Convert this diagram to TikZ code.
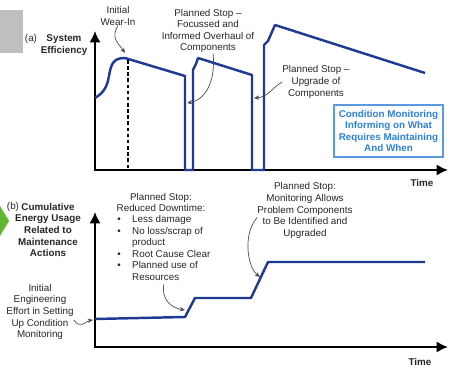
\documentclass[tikz,border=0pt]{standalone}
\usepackage{fontspec}
\setmainfont{Liberation Sans}
\usetikzlibrary{arrows.meta}
\definecolor{navy}{HTML}{1F3A93}
\definecolor{cmblue}{HTML}{2F80D8}
\definecolor{leaf}{HTML}{62B533}

\begin{document}
\begin{tikzpicture}[x=0.02cm,y=-0.02cm,
    every node/.style={font=\fontsize{5.6}{6.6}\selectfont,inner sep=0pt,align=center,text=black!85},
    bold/.style={font=\fontsize{5.6}{6.6}\selectfont\bfseries},
    axis/.style={line width=1.5pt,{Latex[length=6.5pt,width=6.5pt]}-{Latex[length=6.5pt,width=6.5pt]}},
    curve/.style={color=navy,line width=1.4pt,line join=round},
    note/.style={thin,color=black!70,-{Stealth[length=3pt,width=2.5pt]}}]
    \useasboundingbox (0,0) rectangle (450,374);
    \fill[black!25] (0,10) rectangle (23,53);
    \fill[leaf] (0,206) -- (9,221) -- (0,236) -- cycle;
    % axes of both panels
    \foreach \top/\base in {31/170,212/347}
    \draw[axis] (95,\top) |- (448,\base);
    \draw[line width=1.4pt,dash pattern=on 2pt off 1.5pt] (128,60) -- (128,170);
    \draw[curve] (95,98) .. controls (103,93) and (107,88) .. (109,76) .. controls (111,62) and (115,58) .. (125,58)
        -- (185,76) -- (185,170) -- (193,170) -- (193,70) -- (196,64) -- (198,58) -- (252,75) -- (252,170)
        -- (264,170) -- (264,45) -- (268,41) -- (275,25) -- (425,73);
    \draw[curve] (95,319) -- (185,317) -- (195,298) -- (251,298) -- (268,262) -- (425,262);
    % panel (a)
    \node (a mark) at (31,39) {(a)};
    \node[bold] (efficiency) at (64,45) {System\\Efficiency};
    \node (wear) at (118,16) {Initial\\Wear-In};
    \coordinate (wear tip) at (125,53);
    \draw[note] (wear.south) .. controls (110,38) and (119,44) .. (wear tip);
    \node (overhaul) at (208,31) {Planned Stop --\\Focussed and\\Informed Overhaul of\\Components};
    \coordinate (overhaul tip) at (187,103);
    \draw[note] ([xshift=0.1cm]overhaul.south) .. controls (216,82) and (205,100) .. (overhaul tip);
    \node (upgrade) at (316,82) {Planned Stop --\\Upgrade of\\Components};
    \coordinate (upgrade tip) at (254,98);
    \draw[note] (upgrade.west) .. controls (272,88) and (268,97) .. (upgrade tip);
    \node[bold,text=cmblue,draw=cmblue!80,line width=0.9pt,minimum width=2.18cm,minimum height=1.04cm] (monitoring) at (388.5,131)
        {Condition Monitoring\\Informing on What\\Requires Maintaining\\And When};
    \node[bold] (time a) at (422,183) {Time};
    % panel (b)
    \node (b mark) at (13,207) {(b)};
    \node[bold] (energy) at (48,230) {Cumulative\\Energy Usage\\Related to\\Maintenance\\Actions};
    \node (engineering) at (40,312) {Initial\\Engineering\\Effort in Setting\\Up Condition\\Monitoring};
    \coordinate (engineering tip) at (93,320);
    \draw[note] ([yshift=-4.5pt]engineering.east) .. controls (80,330) and (86,321) .. (engineering tip);
    \node (downtime) at (161,202.5) {Planned Stop:\\Reduced Downtime:};
    \node[anchor=north west,align=left] (reasons) at (117,214) {\begin{tabular}{@{}l@{\hspace{6.5pt}}l@{}}
        \textbullet & Less damage\\
        \textbullet & No loss/scrap of\\
         & product\\
        \textbullet & Root Cause Clear\\
        \textbullet & Planned use of\\
         & Resources
        \end{tabular}};
    \coordinate (reasons tip) at (185,310);
    \draw[note] (reasons.south) .. controls (161,300) and (172,308) .. (reasons tip);
    \node (identify) at (305,210.5) {Planned Stop:\\Monitoring Allows\\Problem Components\\to Be Identified and\\Upgraded};
    \coordinate (identify tip) at (260,277);
    \draw[note] ([yshift=-4pt]identify.west) .. controls (242,235) and (248,268) .. (identify tip);
    \node[bold] (time b) at (420,362) {Time};
\end{tikzpicture}
\end{document}
